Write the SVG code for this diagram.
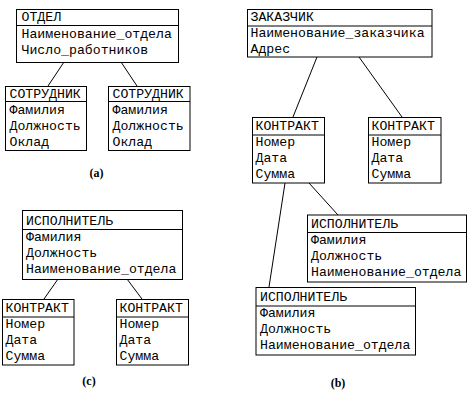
<svg xmlns="http://www.w3.org/2000/svg" width="473" height="397" viewBox="0 0 473 397">
<style>
.box{fill:#fff;stroke:#000;stroke-width:1}
.sep{stroke:#000;stroke-width:1}
.t{font-family:"Liberation Mono","DejaVu Sans Mono",monospace;font-size:13.2px;fill:#000}
.lbl{font-family:"Liberation Serif",serif;font-weight:bold;font-size:12px;fill:#000;text-anchor:middle}
.c{stroke:#000;stroke-width:1;fill:none}
</style>
<rect width="473" height="397" fill="#fff"/>
<g id="connectors">
<line class="c" x1="64" y1="62" x2="48" y2="86"/>
<line class="c" x1="121" y1="62" x2="137" y2="86"/>
<line class="c" x1="317" y1="57" x2="293" y2="117"/>
<line class="c" x1="359" y1="57" x2="402" y2="117"/>
<line class="c" x1="285" y1="183" x2="269" y2="287"/>
<line class="c" x1="309" y1="183" x2="338" y2="215"/>
<line class="c" x1="58" y1="279" x2="44" y2="299"/>
<line class="c" x1="127" y1="279" x2="142" y2="299"/>
</g>
<g id="otdel">
<rect class="box" x="16.5" y="9.5" width="162" height="53"/>
<line class="sep" x1="16.5" y1="25.5" x2="178.5" y2="25.5"/>
<text class="t" x="21.5" y="21">ОТДЕЛ</text>
<text class="t" x="21.5" y="37.5">Наименование_отдела</text>
<text class="t" x="21.5" y="53.5">Число_работников</text>
</g>
<g id="sotrudnik1">
<rect class="box" x="5.5" y="86.5" width="81" height="64"/>
<line class="sep" x1="5.5" y1="101.5" x2="86.5" y2="101.5"/>
<text class="t" x="9.5" y="98">СОТРУДНИК</text>
<text class="t" x="9.5" y="113.5">Фамилия</text>
<text class="t" x="9.5" y="129.5">Должность</text>
<text class="t" x="9.5" y="145.5">Оклад</text>
</g>
<g id="sotrudnik2">
<rect class="box" x="108.5" y="86.5" width="81.5" height="64"/>
<line class="sep" x1="108.5" y1="101.5" x2="190" y2="101.5"/>
<text class="t" x="112.5" y="98">СОТРУДНИК</text>
<text class="t" x="112.5" y="113.5">Фамилия</text>
<text class="t" x="112.5" y="129.5">Должность</text>
<text class="t" x="112.5" y="145.5">Оклад</text>
</g>
<text class="lbl" x="96.5" y="177">(a)</text>
<g id="zakazchik">
<rect class="box" x="247.5" y="9.5" width="184.5" height="47.5"/>
<line class="sep" x1="247.5" y1="26" x2="432" y2="26"/>
<text class="t" x="250.5" y="20.5">ЗАКАЗЧИК</text>
<text class="t" x="250.5" y="36.5">Наименование_заказчика</text>
<text class="t" x="250.5" y="52.5">Адрес</text>
</g>
<g id="kontrakt_b1">
<rect class="box" x="252.5" y="117.5" width="72" height="65.5"/>
<line class="sep" x1="252.5" y1="135" x2="324.5" y2="135"/>
<text class="t" x="255.5" y="130">КОНТРАКТ</text>
<text class="t" x="255.5" y="146">Номер</text>
<text class="t" x="255.5" y="162">Дата</text>
<text class="t" x="255.5" y="177.5">Сумма</text>
</g>
<g id="kontrakt_b2">
<rect class="box" x="368.5" y="117.5" width="72.5" height="65.5"/>
<line class="sep" x1="368.5" y1="135" x2="441" y2="135"/>
<text class="t" x="371.5" y="130">КОНТРАКТ</text>
<text class="t" x="371.5" y="146">Номер</text>
<text class="t" x="371.5" y="162">Дата</text>
<text class="t" x="371.5" y="177.5">Сумма</text>
</g>
<g id="ispolnitel_b1">
<rect class="box" x="307.5" y="215" width="159" height="67"/>
<line class="sep" x1="307.5" y1="232.5" x2="466.5" y2="232.5"/>
<text class="t" x="311" y="227.5">ИСПОЛНИТЕЛЬ</text>
<text class="t" x="311" y="244">Фамилия</text>
<text class="t" x="311" y="260">Должность</text>
<text class="t" x="311" y="276">Наименование_отдела</text>
</g>
<g id="ispolnitel_b2">
<rect class="box" x="256" y="287.5" width="159.5" height="67.5"/>
<line class="sep" x1="256" y1="306" x2="415.5" y2="306"/>
<text class="t" x="260" y="301">ИСПОЛНИТЕЛЬ</text>
<text class="t" x="260" y="316.5">Фамилия</text>
<text class="t" x="260" y="332.5">Должность</text>
<text class="t" x="260" y="348.5">Наименование_отдела</text>
</g>
<text class="lbl" x="338" y="387">(b)</text>
<g id="ispolnitel_c">
<rect class="box" x="22.5" y="210.5" width="160" height="69"/>
<line class="sep" x1="22.5" y1="229.5" x2="182.5" y2="229.5"/>
<text class="t" x="26" y="225">ИСПОЛНИТЕЛЬ</text>
<text class="t" x="26" y="240.5">Фамилия</text>
<text class="t" x="26" y="256.5">Должность</text>
<text class="t" x="26" y="272.5">Наименование_отдела</text>
</g>
<g id="kontrakt_c1">
<rect class="box" x="2.5" y="299.5" width="71.5" height="65.5"/>
<line class="sep" x1="2.5" y1="317" x2="74" y2="317"/>
<text class="t" x="5.5" y="312">КОНТРАКТ</text>
<text class="t" x="5.5" y="328">Номер</text>
<text class="t" x="5.5" y="344">Дата</text>
<text class="t" x="5.5" y="360">Сумма</text>
</g>
<g id="kontrakt_c2">
<rect class="box" x="116.5" y="299.5" width="72" height="65.5"/>
<line class="sep" x1="116.5" y1="317" x2="188.5" y2="317"/>
<text class="t" x="119.5" y="312">КОНТРАКТ</text>
<text class="t" x="119.5" y="328">Номер</text>
<text class="t" x="119.5" y="344">Дата</text>
<text class="t" x="119.5" y="360">Сумма</text>
</g>
<text class="lbl" x="89" y="385">(c)</text>
</svg>
